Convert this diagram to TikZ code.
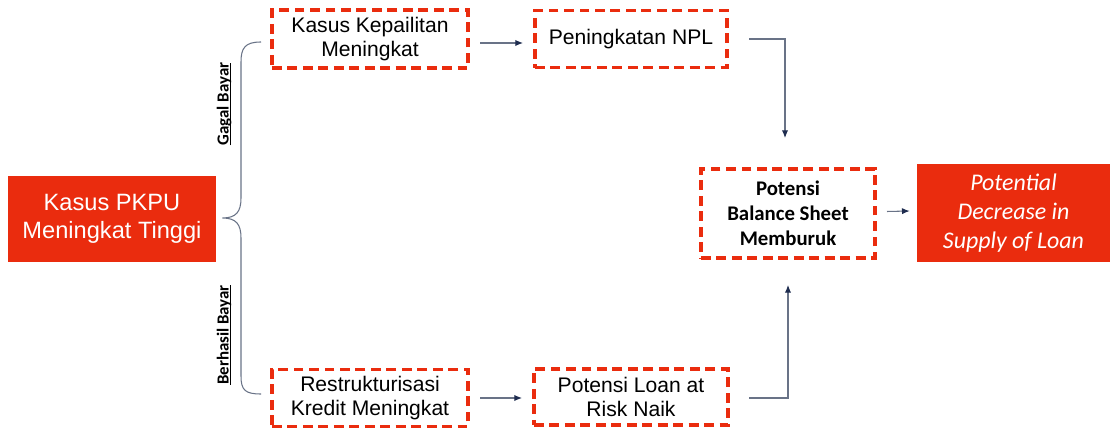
\documentclass[tikz,border=0pt]{standalone}
\usepackage{fontspec}
\setmainfont{Liberation Sans}
\newfontfamily\calibri{Carlito}
\usetikzlibrary{arrows.meta, positioning, calc}
\definecolor{pkpured}{RGB}{234,44,14}
\definecolor{navy}{RGB}{31,45,80}
\definecolor{linegray}{RGB}{105,115,135}

\tikzset{
    redbox/.style={fill=pkpured, text=white, align=center, inner sep=0pt},
    dashbox/.style={draw=pkpured, line width=2.8pt, dash pattern=on 7pt off 4pt,
        align=center, inner sep=0pt, font=\fontsize{15}{17.5}\selectfont},
    arr/.style={draw=linegray, line width=0.75pt,
        -{Latex[length=5.5pt,width=4.5pt,color=navy,fill=navy]}},
    branch/.style={font=\calibri\bfseries\fontsize{12}{13}\selectfont, rotate=90},
}

\begin{document}
\begin{tikzpicture}[x=0.025cm, y=-0.025cm]
    \useasboundingbox (0,0) rectangle (1110,431);

    % left box and brace
    \node[redbox, minimum width=5.2cm, minimum height=2.15cm,
        font=\fontsize{16.8}{20}\selectfont] (pkpu) at (112,219)
        {Kasus PKPU\\Meningkat Tinggi};
    \coordinate (tip) at ($(pkpu.east)+(6,-1)$);

    % dashed boxes
    \node[dashbox, minimum width=4.9cm, minimum height=1.45cm] (kep) at (370,39)
        {Kasus Kepailitan\\Meningkat};
    \node[dashbox, minimum width=4.8cm, minimum height=1.425cm] (npl) at (631,39)
        {Peningkatan NPL};
    \node[dashbox, minimum width=4.9cm, minimum height=1.425cm] (res) at (370,398)
        {Restrukturisasi\\Kredit Meningkat};
    \node[dashbox, minimum width=4.85cm, minimum height=1.4cm] (lar) at (631,397)
        {Potensi Loan at\\Risk Naik};
    \node[dashbox, minimum width=4.35cm, minimum height=2.225cm,
        font=\calibri\bfseries\fontsize{14.8}{17.7}\selectfont] (bs) at (788,213.5)
        {Potensi\\Balance Sheet\\Memburuk};

    % result
    \node[redbox, minimum width=4.825cm, minimum height=2.45cm,
        font=\calibri\itshape\fontsize{17}{20.5}\selectfont] (pot) at (1013.5,213)
        {Potential\\Decrease in\\Supply of Loan};

    % brace
    \coordinate (btop) at ($(kep.west)+(-9,3)$);
    \coordinate (bbot) at ($(res.west)+(-9,-4)$);
    \draw[linegray, line width=0.75pt] (btop) .. controls (245,42) and (241,48) .. (241,62)
        -- (241,198) .. controls (241,212) and (236,218) .. (tip)
        .. controls (236,218) and (241,224) .. (241,238)
        -- (241,376) .. controls (241,390) and (245,394) .. (bbot);
    \node[branch] (gagal) at (230,104) {\underline{\smash{Gagal Bayar}}};
    \node[branch] (berhasil) at (230,335) {\underline{\smash{Berhasil Bayar}}};

    % connectors
    \draw[arr] ($(kep.east)+(10,4)$) -- ($(npl.west)+(-10,4)$);
    \draw[arr] ($(res.east)+(10,0)$) -- ($(lar.west)+(-10,1)$);
    \draw[arr] ($(npl.east)+(20,0)$) -| ($(bs.north)+(-3,-29)$);
    \draw[arr] ($(lar.east)+(19,1)$) -| ($(bs.south)+(0,25)$);
    \draw[arr] ($(bs.east)+(10,-2)$) -- ($(pot.west)+(-7,-2)$);
\end{tikzpicture}
\end{document}
